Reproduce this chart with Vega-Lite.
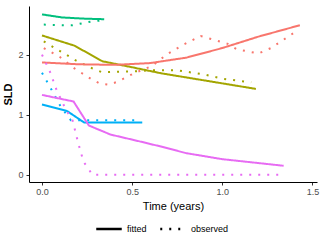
{
  "$schema": "https://vega.github.io/schema/vega-lite/v6.json",
  "autosize": {"type": "none"},
  "width": 288,
  "height": 176,
  "padding": {"left": 29, "top": 6, "right": 3, "bottom": 58},
  "background": "white",
  "config": {"view": {"stroke": null}, "font": "Liberation Sans", "axisX": {"titleFontWeight": "normal"}},
  "data": {"values": [
    {"id": "A", "type": "fitted", "t": 0, "sld": 2.67},
    {"id": "A", "type": "fitted", "t": 0.11, "sld": 2.62},
    {"id": "A", "type": "fitted", "t": 0.23, "sld": 2.60},
    {"id": "A", "type": "fitted", "t": 0.345, "sld": 2.59},
    {"id": "A", "type": "observed", "t": 0.01, "sld": 2.50},
    {"id": "A", "type": "observed", "t": 0.12, "sld": 2.49},
    {"id": "A", "type": "observed", "t": 0.17, "sld": 2.49},
    {"id": "A", "type": "observed", "t": 0.22, "sld": 2.52},
    {"id": "A", "type": "observed", "t": 0.27, "sld": 2.55},
    {"id": "A", "type": "observed", "t": 0.33, "sld": 2.57},
    {"id": "B", "type": "fitted", "t": 0, "sld": 2.32},
    {"id": "B", "type": "fitted", "t": 0.18, "sld": 2.15},
    {"id": "B", "type": "fitted", "t": 0.335, "sld": 1.89},
    {"id": "B", "type": "fitted", "t": 0.5, "sld": 1.79},
    {"id": "B", "type": "fitted", "t": 0.66, "sld": 1.69},
    {"id": "B", "type": "fitted", "t": 1.186, "sld": 1.43},
    {"id": "B", "type": "observed", "t": 0.01, "sld": 2.22},
    {"id": "B", "type": "observed", "t": 0.1, "sld": 2.06},
    {"id": "B", "type": "observed", "t": 0.19, "sld": 1.90},
    {"id": "B", "type": "observed", "t": 0.28, "sld": 1.77},
    {"id": "B", "type": "observed", "t": 0.33, "sld": 1.71},
    {"id": "B", "type": "observed", "t": 0.5, "sld": 1.72},
    {"id": "B", "type": "observed", "t": 0.6, "sld": 1.74},
    {"id": "B", "type": "observed", "t": 0.75, "sld": 1.74},
    {"id": "B", "type": "observed", "t": 0.9, "sld": 1.67},
    {"id": "B", "type": "observed", "t": 1.0, "sld": 1.60},
    {"id": "B", "type": "observed", "t": 1.16, "sld": 1.54},
    {"id": "C", "type": "fitted", "t": 0, "sld": 1.87},
    {"id": "C", "type": "fitted", "t": 0.2, "sld": 1.84},
    {"id": "C", "type": "fitted", "t": 0.4, "sld": 1.83},
    {"id": "C", "type": "fitted", "t": 0.6, "sld": 1.86},
    {"id": "C", "type": "fitted", "t": 0.8, "sld": 1.95},
    {"id": "C", "type": "fitted", "t": 1.0, "sld": 2.11},
    {"id": "C", "type": "fitted", "t": 1.2, "sld": 2.30},
    {"id": "C", "type": "fitted", "t": 1.43, "sld": 2.49},
    {"id": "C", "type": "observed", "t": 0.01, "sld": 2.11},
    {"id": "C", "type": "observed", "t": 0.10, "sld": 1.96},
    {"id": "C", "type": "observed", "t": 0.18, "sld": 1.77},
    {"id": "C", "type": "observed", "t": 0.27, "sld": 1.60},
    {"id": "C", "type": "observed", "t": 0.32, "sld": 1.52},
    {"id": "C", "type": "observed", "t": 0.37, "sld": 1.50},
    {"id": "C", "type": "observed", "t": 0.42, "sld": 1.55},
    {"id": "C", "type": "observed", "t": 0.51, "sld": 1.69},
    {"id": "C", "type": "observed", "t": 0.61, "sld": 1.81},
    {"id": "C", "type": "observed", "t": 0.69, "sld": 2.00},
    {"id": "C", "type": "observed", "t": 0.78, "sld": 2.16},
    {"id": "C", "type": "observed", "t": 0.88, "sld": 2.31},
    {"id": "C", "type": "observed", "t": 1.03, "sld": 2.18},
    {"id": "C", "type": "observed", "t": 1.08, "sld": 2.09},
    {"id": "C", "type": "observed", "t": 1.20, "sld": 2.02},
    {"id": "C", "type": "observed", "t": 1.27, "sld": 2.11},
    {"id": "C", "type": "observed", "t": 1.40, "sld": 2.37},
    {"id": "D", "type": "fitted", "t": 0, "sld": 1.17},
    {"id": "D", "type": "fitted", "t": 0.14, "sld": 1.06},
    {"id": "D", "type": "fitted", "t": 0.234, "sld": 0.87},
    {"id": "D", "type": "fitted", "t": 0.556, "sld": 0.87},
    {"id": "D", "type": "observed", "t": 0, "sld": 1.70},
    {"id": "D", "type": "observed", "t": 0.054, "sld": 1.41},
    {"id": "D", "type": "observed", "t": 0.105, "sld": 1.13},
    {"id": "D", "type": "observed", "t": 0.16, "sld": 0.91},
    {"id": "D", "type": "observed", "t": 0.53, "sld": 0.91},
    {"id": "E", "type": "fitted", "t": 0, "sld": 1.33},
    {"id": "E", "type": "fitted", "t": 0.175, "sld": 1.22},
    {"id": "E", "type": "fitted", "t": 0.26, "sld": 0.82},
    {"id": "E", "type": "fitted", "t": 0.38, "sld": 0.67},
    {"id": "E", "type": "fitted", "t": 0.55, "sld": 0.55},
    {"id": "E", "type": "fitted", "t": 0.66, "sld": 0.47},
    {"id": "E", "type": "fitted", "t": 0.8, "sld": 0.36},
    {"id": "E", "type": "fitted", "t": 1.0, "sld": 0.26},
    {"id": "E", "type": "fitted", "t": 1.34, "sld": 0.15},
    {"id": "E", "type": "observed", "t": 0, "sld": 2.0},
    {"id": "E", "type": "observed", "t": 0.045, "sld": 1.71},
    {"id": "E", "type": "observed", "t": 0.08, "sld": 1.42},
    {"id": "E", "type": "observed", "t": 0.13, "sld": 1.10},
    {"id": "E", "type": "observed", "t": 0.17, "sld": 0.90},
    {"id": "E", "type": "observed", "t": 0.2, "sld": 0.54},
    {"id": "E", "type": "observed", "t": 0.23, "sld": 0.22},
    {"id": "E", "type": "observed", "t": 0.28, "sld": 0.0},
    {"id": "E", "type": "observed", "t": 1.34, "sld": 0.0}
  ]},
  "mark": {"type": "line", "strokeWidth": 2, "clip": true},
  "encoding": {
    "x": {"field": "t", "type": "quantitative",
      "scale": {"domain": [-0.072, 1.525], "nice": false, "zero": false},
      "axis": {"values": [0, 0.5, 1, 1.5], "format": ".1f", "grid": false, "title": "Time (years)",
        "domainColor": "black", "tickColor": "#333333", "tickSize": 3, "labelColor": "#4D4D4D", "labelFontSize": 9,
        "labelPadding": 2, "titleFontSize": 11, "titleFontWeight": "normal", "titlePadding": 4, "titleColor": "black"}},
    "y": {"field": "sld", "type": "quantitative",
      "scale": {"domain": [-0.12, 2.81], "nice": false, "zero": false},
      "axis": {"values": [0, 1, 2], "grid": false, "title": "SLD",
        "domainColor": "black", "tickColor": "#333333", "tickSize": 3, "labelColor": "#4D4D4D", "labelFontSize": 9,
        "labelPadding": 3, "titleFontSize": 11, "titleFontWeight": "bold", "titlePadding": 4, "titleColor": "black"}},
    "color": {"field": "id", "type": "nominal",
      "scale": {"domain": ["C", "B", "A", "D", "E"], "range": ["#F8766D", "#A3A500", "#00BF7D", "#00B0F6", "#E76BF3"]},
      "legend": null},
    "strokeDash": {"field": "type", "type": "nominal",
      "scale": {"domain": ["fitted", "observed"], "range": [[1, 0], [2, 7]]},
      "legend": {"title": null, "orient": "none", "direction": "horizontal", "legendX": 66, "legendY": 209,
        "symbolType": "stroke", "symbolSize": 650, "symbolStrokeWidth": 2.5, "symbolStrokeColor": "black",
        "labelFontSize": 9, "labelColor": "black", "columnPadding": 8}}
  }
}
